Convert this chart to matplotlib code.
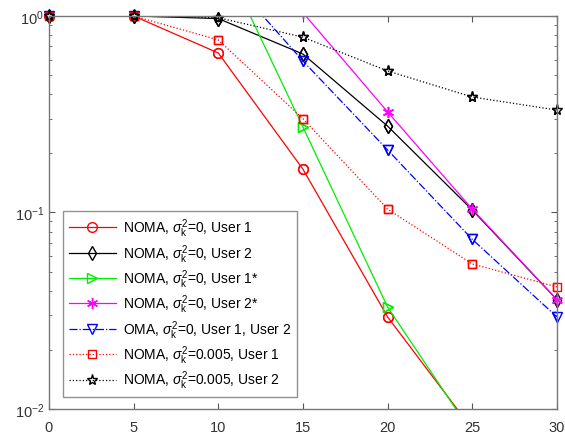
import matplotlib
matplotlib.use("Agg")
import matplotlib.pyplot as plt
import numpy as np

plt.rcParams['font.family'] = ['Liberation Sans', 'DejaVu Sans']
plt.rcParams['mathtext.fontset'] = 'custom'
plt.rcParams['mathtext.rm'] = 'Liberation Sans'
plt.rcParams['mathtext.it'] = 'Liberation Sans:italic'

snr = [0, 5, 10, 15, 20, 25, 30]
noma_u1 = [1.0, 1.0, 0.648, 0.166, 0.0294, 0.0079, 0.0021]
noma_u2 = [1.0, 1.0, 0.97, 0.64, 0.275, 0.103, 0.036]
noma_u1s = [50.0, 10.0, 2.2, 0.272, 0.033, 0.0075, 0.0017]
noma_u2s = [30.0, 10.0, 3.1, 1.04, 0.325, 0.104, 0.036]
oma = [1.0, 1.0, 1.8, 0.59, 0.208, 0.073, 0.0294]
noma005_u1 = [1.0, 1.0, 0.755, 0.30, 0.104, 0.0547, 0.0418]
noma005_u2 = [1.0, 1.0, 0.98, 0.78, 0.525, 0.387, 0.332]

labels = [
    r'NOMA, $\sigma_{\mathrm{k}}^{2}$=0, User 1',
    r'NOMA, $\sigma_{\mathrm{k}}^{2}$=0, User 2',
    r'NOMA, $\sigma_{\mathrm{k}}^{2}$=0, User 1*',
    r'NOMA, $\sigma_{\mathrm{k}}^{2}$=0, User 2*',
    r'OMA, $\sigma_{\mathrm{k}}^{2}$=0, User 1, User 2',
    r'NOMA, $\sigma_{\mathrm{k}}^{2}$=0.005, User 1',
    r'NOMA, $\sigma_{\mathrm{k}}^{2}$=0.005, User 2',
]

fig = plt.figure(figsize=(5.65, 4.35), dpi=100)
ax = fig.add_axes([0.0867, 0.0575, 0.899, 0.9035])

ms = 7
asterisk = (6, 2, 0)
styles = [
    (noma_u1, '#ff0000', '-', 'o', ms),
    (noma_u2, 'black', '-', 'd', ms),
    (noma_u1s, '#00ee00', '-', '>', ms),
    (noma_u2s, '#ff00ff', '-', asterisk, ms + 1),
    (oma, '#0000ff', '-.', 'v', ms),
    (noma005_u1, '#ff0000', ':', 's', ms - 1),
    (noma005_u2, 'black', ':', '*', ms + 1),
]
x = np.array(snr)
for (vals, c, ls, mk, size), lab in zip(styles, labels):
    v = np.array(vals)
    ax.semilogy(x, v, color=c, ls=ls, marker=mk, mfc='none', ms=size, lw=0.9, label=lab)
    inr = (v >= 0.01) & (v <= 1.0)
    ax.semilogy(x[inr], v[inr], ls='none', marker=mk, mfc='none', mec=c, ms=size, clip_on=False)

ax.set_xlim(0, 30)
ax.set_ylim(1e-2, 1)
ax.set_xticks([0, 5, 10, 15, 20, 25, 30])
ax.tick_params(which='both', direction='in', top=True, right=True, colors='#555555', labelcolor='#333333', labelsize=10.5)
ax.tick_params(axis='x', pad=8)
ax.tick_params(which='major', length=4)
ax.tick_params(which='minor', length=2.5)
for s in ax.spines.values():
    s.set_color('#777777')
    s.set_linewidth(1.0)

leg = ax.legend(loc='lower left', bbox_to_anchor=(0.02, 0.02), fontsize=10, frameon=True,
                fancybox=False, edgecolor='#777777', borderaxespad=0.3, handlelength=3.4,
                handletextpad=0.5, labelspacing=0.2, borderpad=0.4)
leg.get_frame().set_linewidth(1.0)

fig.savefig('out.png', dpi=100)
